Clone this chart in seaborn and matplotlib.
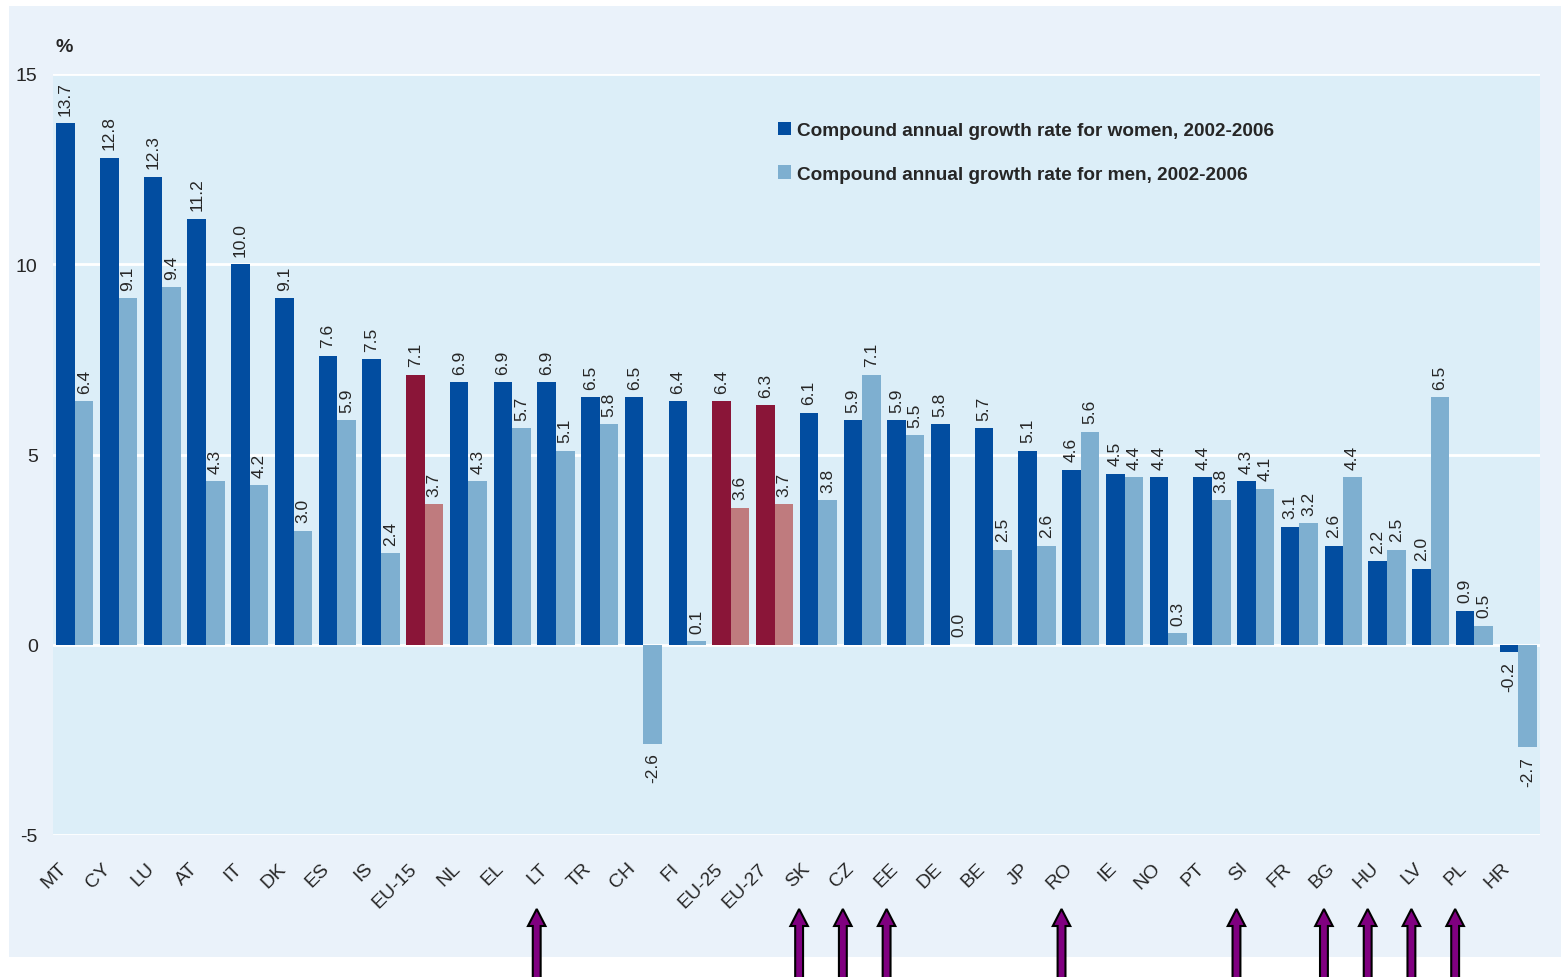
"""Compound annual growth rate of employment by sex, 2002-2006."""

import numpy as np
import pandas as pd
import matplotlib
matplotlib.use("Agg")
import matplotlib.pyplot as plt
import matplotlib.transforms as mtransforms
from matplotlib.patches import Patch, Rectangle, FancyArrow
import seaborn as sns

countries = ["MT", "CY", "LU", "AT", "IT", "DK", "ES", "IS", "EU-15", "NL", "EL", "LT",
             "TR", "CH", "FI", "EU-25", "EU-27", "SK", "CZ", "EE", "DE", "BE", "JP", "RO",
             "IE", "NO", "PT", "SI", "FR", "BG", "HU", "LV", "PL", "HR"]
women = [13.7, 12.8, 12.3, 11.2, 10.0, 9.1, 7.6, 7.5, 7.1, 6.9, 6.9, 6.9,
         6.5, 6.5, 6.4, 6.4, 6.3, 6.1, 5.9, 5.9, 5.8, 5.7, 5.1, 4.6,
         4.5, 4.4, 4.4, 4.3, 3.1, 2.6, 2.2, 2.0, 0.9, -0.2]
men = [6.4, 9.1, 9.4, 4.3, 4.2, 3.0, 5.9, 2.4, 3.7, 4.3, 5.7, 5.1,
       5.8, -2.6, 0.1, 3.6, 3.7, 3.8, 7.1, 5.5, 0.0, 2.5, 2.6, 5.6,
       4.4, 0.3, 3.8, 4.1, 3.2, 4.4, 2.5, 6.5, 0.5, -2.7]
aggregates = ["EU-15", "EU-25", "EU-27"]
marked = ["LT", "SK", "CZ", "EE", "RO", "SI", "BG", "HU", "LV", "PL"]
series_names = ["Compound annual growth rate for women, 2002-2006",
                "Compound annual growth rate for men, 2002-2006"]
yticks = [-5, 0, 5, 10, 15]

# colours
c_women = "#024DA0"
c_men = "#7EAFD0"
c_agg_women = "#8A1538"
c_agg_men = "#BF7B7E"
c_plot_bg = "#DCEEF8"
c_outer_bg = "#EAF2FA"
c_arrow = "#800080"

df = pd.DataFrame({
    "country": countries * 2,
    "value": women + men,
    "series": [series_names[0]] * len(countries) + [series_names[1]] * len(countries),
})

sns.set_style("white", {"axes.facecolor": c_plot_bg})
plt.rcParams["font.family"] = ["Liberation Sans", "DejaVu Sans"]

fig = plt.figure(figsize=(15.61, 9.78), dpi=100, facecolor="white")
fig.add_artist(Rectangle((9 / 1561, 1 - 958 / 978), 1 - 9 / 1561, (958 - 7) / 978,
                         transform=fig.transFigure, facecolor=c_outer_bg,
                         edgecolor="none", zorder=-10))
ax = fig.add_axes([53 / 1561, 1 - 836 / 978, (1540 - 53) / 1561, (836 - 75) / 978])

sns.barplot(data=df, x="country", y="value", hue="series", order=countries,
            hue_order=series_names, palette=[c_women, c_men], width=0.85,
            saturation=1, legend=False, ax=ax, zorder=3)

# recolour the EU aggregates
for cont, agg_col in zip(ax.containers, [c_agg_women, c_agg_men]):
    for bar, name in zip(cont, countries):
        bar.set_edgecolor("none")
        if name in aggregates:
            bar.set_facecolor(agg_col)

# value labels
for cont in ax.containers:
    for bar in cont:
        val = bar.get_height()
        x = bar.get_x() + bar.get_width() / 2
        if val >= 0:
            ax.annotate(f"{val:.1f}", (x, val), xytext=(0, 6), textcoords="offset points",
                        rotation=90, ha="center", va="bottom", fontsize=12.5, zorder=4)
        else:
            ax.annotate(f"{val:.1f}", (x, val), xytext=(0, -6), textcoords="offset points",
                        rotation=90, ha="center", va="top", fontsize=12.5, zorder=4)

ax.set_xlim(-0.5, len(countries) - 0.5)
ax.set_ylim(-5, 15)
ax.set_yticks(yticks)
ax.set_yticklabels([str(t) for t in yticks], fontsize=14)
for t in yticks:
    ax.axhline(t, color="white", lw=2, zorder=2)
ax.set_xticks(range(len(countries)))
ax.tick_params(axis="both", length=0)
ax.tick_params(axis="y", pad=11)
ax.set_xticklabels(countries, rotation=45, ha="right", va="top",
                   rotation_mode="anchor", fontsize=14)
shift = mtransforms.ScaledTranslation(-12 / 72, -14 / 72, fig.dpi_scale_trans)
for lab in ax.get_xticklabels():
    lab.set_transform(lab.get_transform() + shift)
ax.set_xlabel("")
ax.set_ylabel("")
for sp in ax.spines.values():
    sp.set_visible(False)

fig.text(55 / 1561, 1 - 47 / 978, "%", fontsize=14, fontweight="bold", va="center")

handles = [Patch(facecolor=c_women, edgecolor="none"), Patch(facecolor=c_men, edgecolor="none")]
ax.legend(handles, series_names, loc="upper left", bbox_to_anchor=(0.4876, 0.9375),
          frameon=False, handlelength=0.7, handleheight=0.7, handletextpad=0.3,
          labelspacing=1.39, borderpad=0, borderaxespad=0,
          prop={"size": 13.7, "weight": "bold"})

# arrows under the marked countries
blend = mtransforms.blended_transform_factory(ax.transData, fig.transFigure)
for name in marked:
    i = countries.index(name)
    arr = FancyArrow(i - 0.44, -0.01, 0, 1 - 910 / 978 + 0.01, width=0.18, head_width=0.4,
                     head_length=17 / 978, length_includes_head=True, transform=blend,
                     facecolor=c_arrow, edgecolor="black", lw=1.5, clip_on=False, zorder=5)
    fig.add_artist(arr)

fig.savefig("out.png", dpi=100, facecolor=fig.get_facecolor())
